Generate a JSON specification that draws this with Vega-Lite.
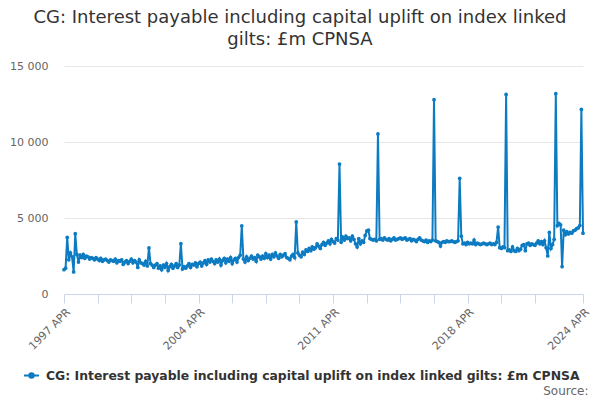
{
  "$schema": "https://vega.github.io/schema/vega-lite/v6.json",
  "width": 519,
  "height": 228,
  "autosize": {"type": "none"},
  "padding": {"left": 64, "top": 66, "right": 17, "bottom": 106},
  "title": {
    "text": ["CG: Interest payable including capital uplift on index linked", "gilts: £m CPNSA"],
    "font": "DejaVu Sans",
    "fontSize": 18,
    "fontWeight": "normal",
    "color": "#333333",
    "anchor": "middle",
    "dx": -23.5,
    "offset": 11,
    "lineHeight": 22
  },
  "data": {
    "values": [
      {"date": "1997-04-01", "value": 1600}, {"date": "1997-05-01", "value": 1700}, {"date": "1997-06-01", "value": 3720}, {"date": "1997-07-01", "value": 2250}, {"date": "1997-08-01", "value": 2700}, {"date": "1997-09-01", "value": 2450}, {"date": "1997-10-01", "value": 1450}, {"date": "1997-11-01", "value": 3970}, {"date": "1997-12-01", "value": 2600},
      {"date": "1998-01-01", "value": 2100}, {"date": "1998-02-01", "value": 2550}, {"date": "1998-03-01", "value": 2400}, {"date": "1998-04-01", "value": 2600}, {"date": "1998-05-01", "value": 2350}, {"date": "1998-06-01", "value": 2500}, {"date": "1998-07-01", "value": 2450}, {"date": "1998-08-01", "value": 2300}, {"date": "1998-09-01", "value": 2400}, {"date": "1998-10-01", "value": 2350}, {"date": "1998-11-01", "value": 2250}, {"date": "1998-12-01", "value": 2400},
      {"date": "1999-01-01", "value": 2300}, {"date": "1999-02-01", "value": 2200}, {"date": "1999-03-01", "value": 2350}, {"date": "1999-04-01", "value": 2150}, {"date": "1999-05-01", "value": 2250}, {"date": "1999-06-01", "value": 2300}, {"date": "1999-07-01", "value": 2200}, {"date": "1999-08-01", "value": 2100}, {"date": "1999-09-01", "value": 2250}, {"date": "1999-10-01", "value": 2200}, {"date": "1999-11-01", "value": 2150}, {"date": "1999-12-01", "value": 2300},
      {"date": "2000-01-01", "value": 2050}, {"date": "2000-02-01", "value": 2200}, {"date": "2000-03-01", "value": 2150}, {"date": "2000-04-01", "value": 2250}, {"date": "2000-05-01", "value": 1950}, {"date": "2000-06-01", "value": 2100}, {"date": "2000-07-01", "value": 2200}, {"date": "2000-08-01", "value": 2000}, {"date": "2000-09-01", "value": 2150}, {"date": "2000-10-01", "value": 2300}, {"date": "2000-11-01", "value": 2050}, {"date": "2000-12-01", "value": 2200},
      {"date": "2001-01-01", "value": 2100}, {"date": "2001-02-01", "value": 1750}, {"date": "2001-03-01", "value": 2250}, {"date": "2001-04-01", "value": 2050}, {"date": "2001-05-01", "value": 2000}, {"date": "2001-06-01", "value": 1900}, {"date": "2001-07-01", "value": 2150}, {"date": "2001-08-01", "value": 1850}, {"date": "2001-09-01", "value": 3030}, {"date": "2001-10-01", "value": 2000}, {"date": "2001-11-01", "value": 1900}, {"date": "2001-12-01", "value": 1750},
      {"date": "2002-01-01", "value": 1900}, {"date": "2002-02-01", "value": 2000}, {"date": "2002-03-01", "value": 1700}, {"date": "2002-04-01", "value": 1850}, {"date": "2002-05-01", "value": 1600}, {"date": "2002-06-01", "value": 1900}, {"date": "2002-07-01", "value": 1750}, {"date": "2002-08-01", "value": 2000}, {"date": "2002-09-01", "value": 1550}, {"date": "2002-10-01", "value": 1800}, {"date": "2002-11-01", "value": 1950}, {"date": "2002-12-01", "value": 1700},
      {"date": "2003-01-01", "value": 1850}, {"date": "2003-02-01", "value": 2000}, {"date": "2003-03-01", "value": 1750}, {"date": "2003-04-01", "value": 1900}, {"date": "2003-05-01", "value": 3310}, {"date": "2003-06-01", "value": 1650}, {"date": "2003-07-01", "value": 1800}, {"date": "2003-08-01", "value": 1700}, {"date": "2003-09-01", "value": 1850}, {"date": "2003-10-01", "value": 2000}, {"date": "2003-11-01", "value": 1750}, {"date": "2003-12-01", "value": 1950},
      {"date": "2004-01-01", "value": 1900}, {"date": "2004-02-01", "value": 2050}, {"date": "2004-03-01", "value": 1800}, {"date": "2004-04-01", "value": 2000}, {"date": "2004-05-01", "value": 2100}, {"date": "2004-06-01", "value": 1850}, {"date": "2004-07-01", "value": 2050}, {"date": "2004-08-01", "value": 2200}, {"date": "2004-09-01", "value": 1950}, {"date": "2004-10-01", "value": 2250}, {"date": "2004-11-01", "value": 2100}, {"date": "2004-12-01", "value": 2300},
      {"date": "2005-01-01", "value": 2150}, {"date": "2005-02-01", "value": 2000}, {"date": "2005-03-01", "value": 2250}, {"date": "2005-04-01", "value": 2100}, {"date": "2005-05-01", "value": 2300}, {"date": "2005-06-01", "value": 1900}, {"date": "2005-07-01", "value": 2200}, {"date": "2005-08-01", "value": 2350}, {"date": "2005-09-01", "value": 2050}, {"date": "2005-10-01", "value": 2300}, {"date": "2005-11-01", "value": 2150}, {"date": "2005-12-01", "value": 2400},
      {"date": "2006-01-01", "value": 2000}, {"date": "2006-02-01", "value": 2250}, {"date": "2006-03-01", "value": 2350}, {"date": "2006-04-01", "value": 2100}, {"date": "2006-05-01", "value": 2400}, {"date": "2006-06-01", "value": 2550}, {"date": "2006-07-01", "value": 4490}, {"date": "2006-08-01", "value": 2300}, {"date": "2006-09-01", "value": 2100}, {"date": "2006-10-01", "value": 2450}, {"date": "2006-11-01", "value": 2200}, {"date": "2006-12-01", "value": 2350},
      {"date": "2007-01-01", "value": 2500}, {"date": "2007-02-01", "value": 2300}, {"date": "2007-03-01", "value": 2400}, {"date": "2007-04-01", "value": 2150}, {"date": "2007-05-01", "value": 2550}, {"date": "2007-06-01", "value": 2450}, {"date": "2007-07-01", "value": 2300}, {"date": "2007-08-01", "value": 2500}, {"date": "2007-09-01", "value": 2350}, {"date": "2007-10-01", "value": 2650}, {"date": "2007-11-01", "value": 2400}, {"date": "2007-12-01", "value": 2550},
      {"date": "2008-01-01", "value": 2300}, {"date": "2008-02-01", "value": 2600}, {"date": "2008-03-01", "value": 2450}, {"date": "2008-04-01", "value": 2700}, {"date": "2008-05-01", "value": 2500}, {"date": "2008-06-01", "value": 2350}, {"date": "2008-07-01", "value": 2600}, {"date": "2008-08-01", "value": 2450}, {"date": "2008-09-01", "value": 2550}, {"date": "2008-10-01", "value": 2650}, {"date": "2008-11-01", "value": 2400}, {"date": "2008-12-01", "value": 2350},
      {"date": "2009-01-01", "value": 2250}, {"date": "2009-02-01", "value": 2500}, {"date": "2009-03-01", "value": 2600}, {"date": "2009-04-01", "value": 2400}, {"date": "2009-05-01", "value": 4740}, {"date": "2009-06-01", "value": 2700}, {"date": "2009-07-01", "value": 2550}, {"date": "2009-08-01", "value": 2450}, {"date": "2009-09-01", "value": 2750}, {"date": "2009-10-01", "value": 2600}, {"date": "2009-11-01", "value": 2900}, {"date": "2009-12-01", "value": 2800},
      {"date": "2010-01-01", "value": 3000}, {"date": "2010-02-01", "value": 2850}, {"date": "2010-03-01", "value": 3100}, {"date": "2010-04-01", "value": 2950}, {"date": "2010-05-01", "value": 3050}, {"date": "2010-06-01", "value": 3300}, {"date": "2010-07-01", "value": 3150}, {"date": "2010-08-01", "value": 3000}, {"date": "2010-09-01", "value": 3250}, {"date": "2010-10-01", "value": 3400}, {"date": "2010-11-01", "value": 3200}, {"date": "2010-12-01", "value": 3350},
      {"date": "2011-01-01", "value": 3500}, {"date": "2011-02-01", "value": 3300}, {"date": "2011-03-01", "value": 3600}, {"date": "2011-04-01", "value": 3450}, {"date": "2011-05-01", "value": 3350}, {"date": "2011-06-01", "value": 3650}, {"date": "2011-07-01", "value": 3550}, {"date": "2011-08-01", "value": 8550}, {"date": "2011-09-01", "value": 3400}, {"date": "2011-10-01", "value": 3750}, {"date": "2011-11-01", "value": 3550}, {"date": "2011-12-01", "value": 3800},
      {"date": "2012-01-01", "value": 3650}, {"date": "2012-02-01", "value": 3700}, {"date": "2012-03-01", "value": 3500}, {"date": "2012-04-01", "value": 3800}, {"date": "2012-05-01", "value": 3600}, {"date": "2012-06-01", "value": 3300}, {"date": "2012-07-01", "value": 3100}, {"date": "2012-08-01", "value": 3650}, {"date": "2012-09-01", "value": 3300}, {"date": "2012-10-01", "value": 3500}, {"date": "2012-11-01", "value": 3400}, {"date": "2012-12-01", "value": 3850},
      {"date": "2013-01-01", "value": 4150}, {"date": "2013-02-01", "value": 4200}, {"date": "2013-03-01", "value": 3650}, {"date": "2013-04-01", "value": 3600}, {"date": "2013-05-01", "value": 3550}, {"date": "2013-06-01", "value": 3600}, {"date": "2013-07-01", "value": 3500}, {"date": "2013-08-01", "value": 10530}, {"date": "2013-09-01", "value": 3600}, {"date": "2013-10-01", "value": 3650}, {"date": "2013-11-01", "value": 3550}, {"date": "2013-12-01", "value": 3700},
      {"date": "2014-01-01", "value": 3600}, {"date": "2014-02-01", "value": 3550}, {"date": "2014-03-01", "value": 3650}, {"date": "2014-04-01", "value": 3500}, {"date": "2014-05-01", "value": 3600}, {"date": "2014-06-01", "value": 3700}, {"date": "2014-07-01", "value": 3550}, {"date": "2014-08-01", "value": 3600}, {"date": "2014-09-01", "value": 3650}, {"date": "2014-10-01", "value": 3700}, {"date": "2014-11-01", "value": 3600}, {"date": "2014-12-01", "value": 3650},
      {"date": "2015-01-01", "value": 3700}, {"date": "2015-02-01", "value": 3550}, {"date": "2015-03-01", "value": 3600}, {"date": "2015-04-01", "value": 3650}, {"date": "2015-05-01", "value": 3500}, {"date": "2015-06-01", "value": 3600}, {"date": "2015-07-01", "value": 3550}, {"date": "2015-08-01", "value": 3450}, {"date": "2015-09-01", "value": 3600}, {"date": "2015-10-01", "value": 3700}, {"date": "2015-11-01", "value": 3550}, {"date": "2015-12-01", "value": 3500},
      {"date": "2016-01-01", "value": 3450}, {"date": "2016-02-01", "value": 3550}, {"date": "2016-03-01", "value": 3400}, {"date": "2016-04-01", "value": 3500}, {"date": "2016-05-01", "value": 3450}, {"date": "2016-06-01", "value": 3550}, {"date": "2016-07-01", "value": 12780}, {"date": "2016-08-01", "value": 3500}, {"date": "2016-09-01", "value": 3450}, {"date": "2016-10-01", "value": 3400}, {"date": "2016-11-01", "value": 3150}, {"date": "2016-12-01", "value": 3400},
      {"date": "2017-01-01", "value": 3450}, {"date": "2017-02-01", "value": 3400}, {"date": "2017-03-01", "value": 3500}, {"date": "2017-04-01", "value": 3450}, {"date": "2017-05-01", "value": 3450}, {"date": "2017-06-01", "value": 3500}, {"date": "2017-07-01", "value": 3450}, {"date": "2017-08-01", "value": 3400}, {"date": "2017-09-01", "value": 3450}, {"date": "2017-10-01", "value": 3500}, {"date": "2017-11-01", "value": 7610}, {"date": "2017-12-01", "value": 3800},
      {"date": "2018-01-01", "value": 3300}, {"date": "2018-02-01", "value": 3350}, {"date": "2018-03-01", "value": 3250}, {"date": "2018-04-01", "value": 3400}, {"date": "2018-05-01", "value": 3300}, {"date": "2018-06-01", "value": 3350}, {"date": "2018-07-01", "value": 3300}, {"date": "2018-08-01", "value": 3550}, {"date": "2018-09-01", "value": 3250}, {"date": "2018-10-01", "value": 3350}, {"date": "2018-11-01", "value": 3300}, {"date": "2018-12-01", "value": 3250},
      {"date": "2019-01-01", "value": 3300}, {"date": "2019-02-01", "value": 3350}, {"date": "2019-03-01", "value": 3300}, {"date": "2019-04-01", "value": 3250}, {"date": "2019-05-01", "value": 3300}, {"date": "2019-06-01", "value": 3350}, {"date": "2019-07-01", "value": 3250}, {"date": "2019-08-01", "value": 3300}, {"date": "2019-09-01", "value": 3250}, {"date": "2019-10-01", "value": 3400}, {"date": "2019-11-01", "value": 4400}, {"date": "2019-12-01", "value": 3050},
      {"date": "2020-01-01", "value": 3000}, {"date": "2020-02-01", "value": 3100}, {"date": "2020-03-01", "value": 3050}, {"date": "2020-04-01", "value": 13130}, {"date": "2020-05-01", "value": 2850}, {"date": "2020-06-01", "value": 2900}, {"date": "2020-07-01", "value": 2800}, {"date": "2020-08-01", "value": 3100}, {"date": "2020-09-01", "value": 2850}, {"date": "2020-10-01", "value": 2800}, {"date": "2020-11-01", "value": 3000}, {"date": "2020-12-01", "value": 2850},
      {"date": "2021-01-01", "value": 2950}, {"date": "2021-02-01", "value": 3200}, {"date": "2021-03-01", "value": 3250}, {"date": "2021-04-01", "value": 2850}, {"date": "2021-05-01", "value": 3300}, {"date": "2021-06-01", "value": 3350}, {"date": "2021-07-01", "value": 3200}, {"date": "2021-08-01", "value": 3300}, {"date": "2021-09-01", "value": 3250}, {"date": "2021-10-01", "value": 3200}, {"date": "2021-11-01", "value": 3350}, {"date": "2021-12-01", "value": 3500},
      {"date": "2022-01-01", "value": 3300}, {"date": "2022-02-01", "value": 3450}, {"date": "2022-03-01", "value": 3250}, {"date": "2022-04-01", "value": 3500}, {"date": "2022-05-01", "value": 3050}, {"date": "2022-06-01", "value": 2500}, {"date": "2022-07-01", "value": 4050}, {"date": "2022-08-01", "value": 3000}, {"date": "2022-09-01", "value": 3250}, {"date": "2022-10-01", "value": 3600}, {"date": "2022-11-01", "value": 13180}, {"date": "2022-12-01", "value": 4500},
      {"date": "2023-01-01", "value": 4650}, {"date": "2023-02-01", "value": 4550}, {"date": "2023-03-01", "value": 1800}, {"date": "2023-04-01", "value": 4200}, {"date": "2023-05-01", "value": 3900}, {"date": "2023-06-01", "value": 4100}, {"date": "2023-07-01", "value": 3950}, {"date": "2023-08-01", "value": 4050}, {"date": "2023-09-01", "value": 4000}, {"date": "2023-10-01", "value": 4150}, {"date": "2023-11-01", "value": 4200}, {"date": "2023-12-01", "value": 4300},
      {"date": "2024-01-01", "value": 4350}, {"date": "2024-02-01", "value": 4500}, {"date": "2024-03-01", "value": 12140}, {"date": "2024-04-01", "value": 4000}
    ]
  },
  "mark": {
    "type": "line",
    "strokeWidth": 2,
    "point": {"filled": true, "size": 14}
  },
  "encoding": {
    "x": {
      "field": "date",
      "type": "temporal",
      "scale": {
        "type": "utc",
        "domain": [
          {"year": 1997, "month": 4, "date": 1, "utc": true},
          {"year": 2024, "month": 4, "date": 1, "utc": true}
        ]
      },
      "axis": {
        "title": "Source:",
        "titleFont": "DejaVu Sans",
        "titleFontSize": 12,
        "titleFontWeight": "normal",
        "titleColor": "#666666",
        "titleAnchor": "end",
        "titleAlign": "right",
        "titleBaseline": "alphabetic",
        "titleX": 524,
        "titleY": 100,
        "values": [
          {"year": 1997, "month": 4, "date": 1, "utc": true},
          {"year": 1999, "month": 1, "date": 1, "utc": true},
          {"year": 2000, "month": 10, "date": 1, "utc": true},
          {"year": 2002, "month": 7, "date": 1, "utc": true},
          {"year": 2004, "month": 4, "date": 1, "utc": true},
          {"year": 2006, "month": 1, "date": 1, "utc": true},
          {"year": 2007, "month": 10, "date": 1, "utc": true},
          {"year": 2009, "month": 7, "date": 1, "utc": true},
          {"year": 2011, "month": 4, "date": 1, "utc": true},
          {"year": 2013, "month": 1, "date": 1, "utc": true},
          {"year": 2014, "month": 10, "date": 1, "utc": true},
          {"year": 2016, "month": 7, "date": 1, "utc": true},
          {"year": 2018, "month": 4, "date": 1, "utc": true},
          {"year": 2020, "month": 1, "date": 1, "utc": true},
          {"year": 2021, "month": 10, "date": 1, "utc": true},
          {"year": 2024, "month": 4, "date": 1, "utc": true}
        ],
        "labelExpr": "utcmonth(datum.value) == 3 && indexof([1997, 2004, 2011, 2018, 2024], utcyear(datum.value)) >= 0 ? utcyear(datum.value) + ' APR' : ''",
        "labelAngle": -45,
        "labelFont": "DejaVu Sans",
        "labelFontSize": 11,
        "labelColor": "#666666",
        "labelPadding": 3,
        "labelOverlap": false,
        "grid": false,
        "domainColor": "#ccd6eb",
        "tickColor": "#ccd6eb",
        "tickSize": 9
      }
    },
    "y": {
      "field": "value",
      "type": "quantitative",
      "scale": {"domain": [0, 15000], "nice": false},
      "axis": {
        "title": null,
        "values": [0, 5000, 10000, 15000],
        "labelExpr": "datum.value >= 1000 ? floor(datum.value / 1000) + ' 000' : '0'",
        "labelFont": "DejaVu Sans",
        "labelFontSize": 11,
        "labelColor": "#666666",
        "labelPadding": 16,
        "domain": false,
        "ticks": false,
        "gridColor": "#e6e6e6"
      }
    },
    "color": {
      "datum": "CG: Interest payable including capital uplift on index linked gilts: £m CPNSA",
      "type": "nominal",
      "scale": {"range": ["#0d7bc1"]},
      "legend": {
        "title": null,
        "orient": "none",
        "legendX": -41,
        "legendY": 301,
        "padding": 0,
        "symbolType": "M-1,0H1M-0.3,0A0.3,0.3 0 1,0 0.3,0A0.3,0.3 0 1,0 -0.3,0",
        "symbolSize": 225,
        "symbolStrokeWidth": 2,
        "symbolOffset": 0,
        "labelOffset": 6,
        "labelFont": "DejaVu Sans",
        "labelFontSize": 12.4,
        "labelFontWeight": "bold",
        "labelColor": "#333333",
        "labelLimit": 600,
        "encode": {"symbols": {"update": {"fill": {"value": "#0d7bc1"}}}}
      }
    }
  },
  "config": {
    "view": {"stroke": null}
  }
}
